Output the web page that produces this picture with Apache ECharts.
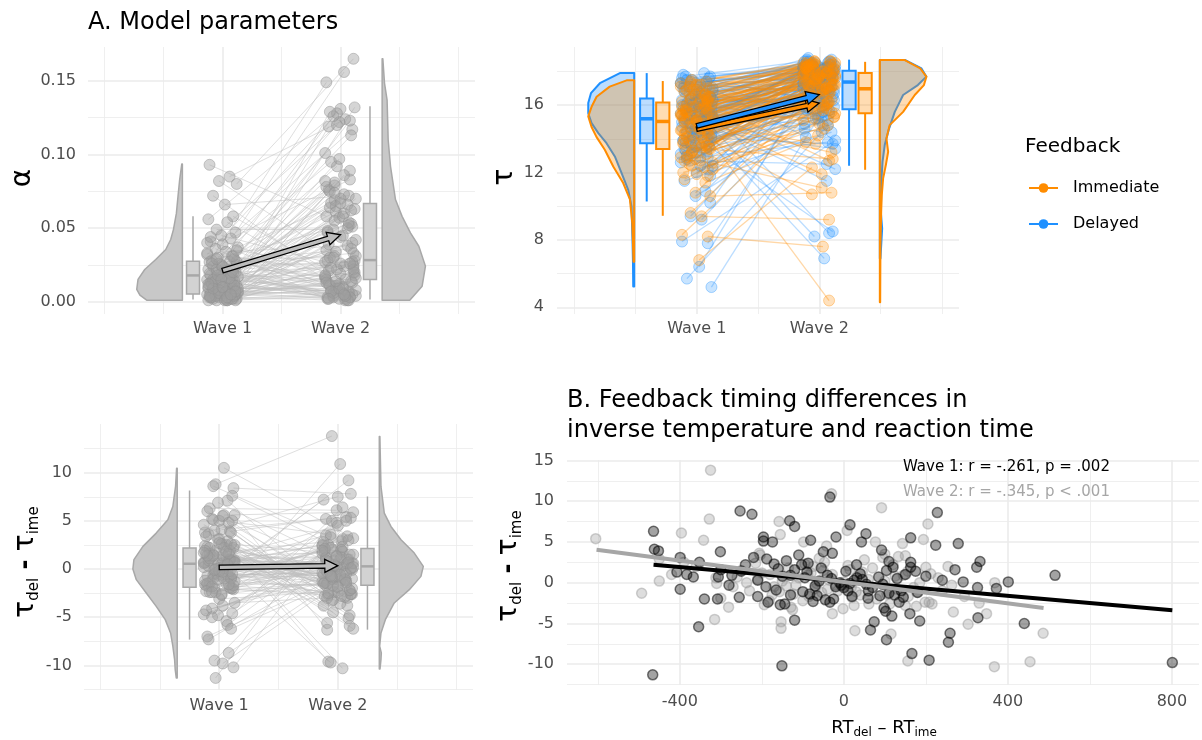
<!DOCTYPE html>
<html><head><meta charset="utf-8">
<script src="https://cdn.jsdelivr.net/npm/echarts@6/dist/echarts.min.js"></script>
<style>html,body{margin:0;padding:0;background:#fff}#c{width:1202px;height:740px}</style>
</head><body><div id="c"></div>
<script>
// ---------------- DATA ----------------
const WAVE_LABELS = ['Wave 1', 'Wave 2'];
const FEEDBACK = ['Immediate', 'Delayed'];

// Panel A (alpha), paired by index
const ALPHA_W1 = [0.093,0.085,0.082,0.080,0.072,0.066,0.058,0.056,0.054,0.049,
0.047,0.045,0.043,0.041,0.039,0.037,0.036,0.034,0.032,0.031,
0.030,0.029,0.028,0.027,0.027,0.026,0.025,0.024,0.023,0.022,
0.022,0.021,0.020,0.020,0.019,0.018,0.018,0.017,0.017,0.016,
0.016,0.015,0.015,0.014,0.014,0.013,0.012,0.012,0.011,0.011,
0.010,0.010,0.009,0.009,0.008,0.008,0.008,0.007,0.007,0.006,
0.006,0.006,0.005,0.005,0.005,0.004,0.004,0.004,0.003,0.003,
0.003,0.003,0.002,0.002,0.002,0.002,0.001,0.001,0.001,0.001,
0.025,0.019,0.013,0.010,0.007,0.004,0.002,0.033,0.021,0.015,
0.004,0.012,0.019,0.002,0.008,0.027,0.015,0.006,0.031,0.010,
0.001,0.022,0.005,0.017,0.013,0.003,0.024,0.009,0.014,0.007,
0.040,0.002,0.018,0.011,0.026,0.004,0.016,0.006,0.035,0.009,
0.001,0.020,0.012,0.003,0.029,0.007,0.015,0.005,0.044,0.010];
const ALPHA_W2 = [0.058,0.124,0.031,0.165,0.012,0.072,0.021,0.131,0.004,0.049,
0.156,0.027,0.083,0.009,0.117,0.064,0.002,0.038,0.128,0.018,
0.095,0.006,0.053,0.149,0.015,0.069,0.033,0.122,0.001,0.076,
0.044,0.008,0.126,0.024,0.101,0.003,0.061,0.013,0.129,0.047,
0.005,0.092,0.028,0.067,0.010,0.113,0.035,0.002,0.081,0.020,
0.057,0.007,0.119,0.026,0.042,0.004,0.073,0.016,0.089,0.011,
0.051,0.030,0.003,0.066,0.022,0.132,0.008,0.045,0.014,0.078,
0.001,0.055,0.025,0.097,0.006,0.039,0.019,0.070,0.003,0.060,
0.017,0.123,0.034,0.005,0.075,0.028,0.050,0.009,0.063,0.023,
0.009,0.062,0.015,0.004,0.079,0.024,0.002,0.054,0.012,0.070,
0.031,0.006,0.086,0.018,0.003,0.065,0.027,0.011,0.048,0.001,
0.120,0.020,0.007,0.058,0.036,0.013,0.004,0.074,0.022,0.009,
0.052,0.002,0.067,0.016,0.030,0.005,0.082,0.026,0.014,0.040];
const ALPHA_MEANS = [0.0212, 0.0455];
const ALPHA_BOX = [[0.0016,0.0052,0.0179,0.0276,0.058],[0.0016,0.0152,0.0283,0.0667,0.1327]];
const ALPHA_DENS_W1 = [[0.001,0.30],[0.0045,0.36],[0.0084,0.387],[0.0152,0.376],[0.0219,0.319],[0.0287,0.226],[0.0355,0.141],[0.0423,0.099],[0.049,0.076],[0.060,0.051],[0.0717,0.037],[0.083,0.023],[0.0936,0.005]];
const ALPHA_DENS_W2 = [[0.001,0.234],[0.0106,0.339],[0.0242,0.367],[0.0377,0.311],[0.0468,0.24],[0.058,0.169],[0.0694,0.113],[0.092,0.071],[0.110,0.051],[0.137,0.042],[0.1485,0.02],[0.165,0.006]];

// Panel A (tau), paired by index
const TAU_DEL_W1 = [5.2,5.7,6.4,7.8,7.9,9.2,9.4,10.2,10.6,10.9,
11.5,12.0,12.4,12.7,12.9,13.1,13.3,13.5,13.6,13.8,
13.9,14.0,14.2,14.3,14.4,14.5,14.6,14.7,14.8,14.9,
15.0,15.1,15.1,15.2,15.3,15.3,15.4,15.5,15.5,15.6,
15.7,15.7,15.8,15.9,15.9,16.0,16.0,16.1,16.2,16.2,
16.3,16.4,16.4,16.5,16.6,16.7,16.8,16.9,17.0,17.1,
17.2,17.3,17.4,17.5,17.6,17.7,17.8,17.9,14.1,15.6,
13.0,16.5,12.2,15.0,16.8,14.6,11.8,17.3,15.4,13.4,
13.2,14.9,16.3,15.8,12.6,17.1,14.4,15.6,16.9,13.9,
15.2,16.6,14.1,17.5,15.9,12.9,16.0,14.7,15.4,17.7,
13.6,16.2,15.0,14.3,16.8,15.7,12.4,17.3,14.8,16.4,
15.5,13.3,17.0,14.5,16.1,15.3,12.8,16.7,14.0,17.6,
15.1,13.7,16.5,14.6,15.8,17.2,13.5,16.3,14.9,15.6];
const TAU_DEL_W2 = [15.2,14.8,16.9,17.6,13.9,16.1,17.8,18.2,15.5,17.2,
14.4,16.6,18.0,12.5,17.5,16.3,18.4,15.9,17.7,14.9,
18.1,17.3,8.5,16.8,18.3,15.7,17.9,13.4,18.5,16.5,
17.0,18.6,8.2,17.4,15.8,18.2,11.5,17.6,16.9,18.0,
14.4,17.8,18.3,6.9,16.4,18.1,17.2,15.1,18.7,17.5,
12.2,18.4,16.0,17.9,8.4,18.2,17.1,18.8,14.1,17.7,
18.5,16.7,18.0,15.3,17.4,18.6,16.2,17.9,13.7,18.3,
17.0,18.1,16.6,17.6,18.4,15.6,17.3,18.2,16.8,17.8,
17.5,18.2,16.4,17.8,15.9,18.6,17.1,18.0,17.4,16.6,
18.3,17.7,15.4,18.5,17.2,16.2,18.1,17.6,14.8,18.4,
16.9,17.3,18.7,16.1,17.9,18.2,15.2,18.0,17.5,16.7,
18.4,14.6,17.8,18.1,16.5,17.0,13.8,18.6,17.3,18.3,
16.8,17.6,18.2,15.7,17.4,18.5,16.3,17.9,18.0,17.1];
const TAU_IMM_W1 = [6.8,8.2,8.3,9.4,9.6,10.6,10.8,11.4,11.6,11.9,
12.2,12.5,12.7,12.9,13.1,13.2,13.4,13.5,13.7,13.8,
13.9,14.0,14.1,14.3,14.4,14.5,14.6,14.7,14.8,14.9,
14.9,15.0,15.1,15.2,15.2,15.3,15.4,15.5,15.5,15.6,
15.7,15.7,15.8,15.9,16.0,16.0,16.1,16.2,16.2,16.3,
16.4,16.5,16.6,16.7,16.8,16.9,17.0,17.1,17.2,17.3,
17.4,17.5,14.2,15.6,12.0,16.6,13.3,15.0,16.9,14.6,
11.8,15.4,13.6,16.3,14.8,12.8,15.9,14.0,17.2,15.3,
13.0,15.7,14.5,16.4,12.4,17.0,15.1,13.8,16.2,14.8,
15.5,12.9,16.8,14.2,15.9,13.5,17.3,14.9,15.3,16.6,
12.7,15.0,16.1,13.9,14.6,17.1,15.8,13.2,16.5,14.4,
15.2,12.3,16.9,14.7,15.6,13.7,16.3,15.4,14.1,17.4,
13.4,15.9,16.0,14.3,15.1,12.6,16.7,14.9,15.5,13.6];
const TAU_IMM_W2 = [12.3,7.6,15.1,9.2,16.5,10.8,17.2,13.8,16.0,17.6,
15.3,18.0,11.1,16.8,17.4,14.6,18.2,12.8,17.0,16.1,
18.3,15.8,17.7,10.7,16.9,18.5,4.4,17.3,15.6,18.1,
16.4,17.9,13.7,18.4,17.1,11.9,18.6,16.7,17.5,15.2,
18.0,17.8,16.2,18.3,14.9,17.2,18.5,16.6,17.9,12.7,
18.1,17.4,16.0,18.4,17.0,15.5,18.2,17.7,16.8,18.6,
17.3,18.0,15.9,17.6,14.2,18.3,16.3,17.8,18.5,17.1,
15.7,18.2,16.9,17.5,13.2,18.1,16.5,17.9,18.4,17.2,
16.8,17.9,17.2,18.3,15.9,18.5,17.6,16.4,18.0,17.3,
17.7,15.5,18.4,16.9,17.8,16.2,18.6,17.1,17.5,18.2,
15.8,17.4,18.1,16.6,17.0,18.4,17.9,16.0,18.3,17.2,
17.6,14.8,18.5,17.3,17.8,16.5,18.0,17.7,16.7,18.6,
16.3,17.9,18.2,17.0,17.5,15.3,18.4,17.6,17.8,16.1];
const TAU_DEL_MEANS = [14.77, 16.62];
const TAU_IMM_MEANS = [14.57, 16.12];
const TAU_DEL_BOX = [[10.28,13.74,15.19,16.4,17.9],[12.4,15.76,17.37,18.04,18.7]];
const TAU_IMM_BOX = [[9.43,13.4,15.03,16.16,17.43],[12.16,15.52,16.97,17.9,18.57]];
const TAU_DEL_DENS_W1 = [[5.23,0.008],[6.6,0.01],[7.98,0.014],[9.98,0.022],[10.97,0.049],[11.96,0.103],[12.95,0.158],[13.74,0.226],[14.34,0.293],[14.93,0.348],[15.52,0.375],[16.12,0.375],[16.71,0.353],[17.3,0.28],[17.9,0.117]];
const TAU_IMM_DENS_W1 = [[6.7,0.006],[8.0,0.011],[9.0,0.016],[10.4,0.035],[11.37,0.09],[12.36,0.171],[13.35,0.24],[14.1,0.307],[14.7,0.348],[15.33,0.375],[15.9,0.348],[16.5,0.307],[17.1,0.2],[17.47,0.062]];
const TAU_DEL_DENS_W2 = [[6.9,0.005],[8.68,0.019],[9.66,0.008],[11.65,0.014],[12.63,0.022],[13.63,0.04],[14.62,0.076],[15.6,0.122],[16.6,0.19],[17.19,0.31],[17.69,0.38],[18.18,0.34],[18.68,0.204]];
const TAU_IMM_DENS_W2 = [[4.3,0.003],[7.68,0.005],[9.66,0.011],[10.66,0.016],[11.65,0.027],[12.44,0.049],[13.23,0.068],[14.02,0.054],[14.81,0.08],[15.6,0.19],[16.6,0.285],[17.19,0.36],[17.69,0.38],[18.18,0.33],[18.68,0.2]];

// Panel B: RT difference (x) and tau difference (y) per participant, per wave
const RT_W1 = [-253,-224,-464,-462,-452,-301,-196,-196,-174,-220,
-188,-170,-399,-352,-407,-383,-367,-399,-340,-308,
-255,-210,-354,-466,-151,-185,-155,-273,-306,-34,
228,-132,-120,15,54,43,-19,-81,163,224,
279,92,-50,-28,-110,163,163,31,271,332,
324,-87,-103,104,-120,74,65,104,98,102,
117,161,185,166,208,259,255,327,124,-34,
-45,-83,-144,59,88,291,326,200,32,-6,
372,401,515,440,801,-60,-40,-20,10,25,
-120,-90,-70,-150,-240,130,150,180,240,60,
-25,0,45,-130,-140,110,145,175,-95,-300,
-210,-165,-130,-75,-55,-10,20,40,70,95,
120,140,-250,-190,-100,-30,5,55,85,135,
-280,-160,-65,15,110];
const TD_W1 = [8.8,8.4,6.3,4.1,3.9,3.8,5.6,5.1,5.0,3.1,
2.9,2.3,3.1,2.5,1.3,1.0,0.7,-0.8,-2.0,-2.0,
-1.8,-1.7,-5.4,-11.3,-10.2,-2.4,-2.7,0.9,0.7,10.5,
8.6,7.6,6.9,7.1,6.0,5.0,5.6,5.2,5.5,4.6,
4.8,4.0,3.8,3.6,3.4,2.5,1.9,2.2,1.6,2.6,
1.9,2.4,2.2,1.5,-4.6,-4.8,-5.8,-7.0,-3.1,-3.5,
-4.1,-3.8,-4.7,-8.7,-9.5,-6.2,-7.3,-4.3,-1.5,-2.4,
-2.1,-1.4,-2.6,-1.9,-1.6,0.1,-0.6,0.8,0.6,-0.3,
-0.7,0.1,0.9,-5.0,-9.8,0.2,0.9,-0.5,-1.0,0.3,
1.6,1.3,-0.4,0.8,2.2,0.5,1.0,-1.2,0.3,-1.0,
-2.0,-0.6,0.4,-1.5,2.7,-1.3,-1.8,1.4,0.6,1.6,
0.3,-0.9,0.9,-2.3,1.8,0.0,-1.7,1.1,-0.6,-0.2,
1.9,-1.0,1.4,-0.5,-1.1,0.5,1.4,-0.2,0.7,-2.4,
-0.3,1.7,-1.6,-0.1,2.6];
const RT_W2 = [-325,-328,-396,-605,-342,-158,-155,-206,-450,-493,
-281,-315,-153,-153,-237,-210,-310,-312,-194,-30,
92,205,8,-98,194,143,77,100,-42,133,
150,254,15,-28,-2,27,115,150,177,198,
215,156,267,303,348,367,-125,61,263,294,
157,368,486,454,-450,-215,-204,-157,-182,-129,
-123,-117,-88,-66,-47,-54,-28,18,95,100,
112,156,178,212,208,-250,-270,-360,-390,-420,
-75,-100,40,70,-15,130,240,330,-180,-60,
50,-135,-230,185,-35,-170,-80,20,230,120,
-200,-140,-110,-85,-50,-20,10,30,60,80,
125,170,-260,-175,-95,-40,0,45,105,145,
-300,-150,-70,25,200];
const TD_W2 = [13.8,7.8,6.1,5.4,5.2,7.5,5.9,3.6,0.2,-1.3,
-3.0,-4.5,-4.8,-5.6,0.0,0.4,-0.1,0.6,-2.7,10.9,
9.2,7.2,6.4,5.0,5.3,4.8,5.0,3.5,4.5,3.2,
3.3,2.0,1.6,-3.8,-3.2,-5.9,-6.3,-2.8,-2.9,-2.4,
-2.6,-9.6,-3.6,-5.1,-3.8,-10.3,-3.3,-2.6,-0.3,-1.7,
-1.7,0.0,-6.2,-9.7,2.9,2.4,3.4,-1.1,-2.2,-3.0,
-1.4,-0.3,0.9,-0.1,2.5,-1.2,1.0,-0.6,3.1,0.2,
-2.6,1.4,-1.2,1.1,-2.4,1.5,-0.5,2.0,2.5,1.0,
2.0,-2.2,-1.5,1.8,-1.0,-0.8,-1.0,-2.5,1.0,3.0,
2.8,1.8,-1.0,0.0,0.3,-0.5,1.2,-1.8,0.6,2.2,
1.2,-0.4,0.6,-1.7,1.5,-0.3,2.1,-1.1,0.4,-2.0,
0.8,-0.6,0.7,-1.5,2.3,-0.8,0.1,1.3,-1.4,0.9,
-1.9,0.2,-0.7,-2.8,1.9];
const DIFF_MEANS = [0.17, 0.35];
const DIFF_BOX = [[-7.32,-1.9,0.55,2.18,8.15],[-6.29,-1.69,0.28,2.14,7.53]];
const DIFF_DENS_W1 = [[-11.3,0.008],[-10.43,0.017],[-9.4,0.022],[-8.01,0.037],[-6.63,0.056],[-5.25,0.101],[-3.87,0.177],[-2.49,0.261],[-1.1,0.345],[0,0.374],[0.97,0.365],[2.35,0.289],[3.73,0.177],[5.11,0.079],[6.49,0.037],[8.57,0.014],[10.47,0.005]];
const DIFF_DENS_W2 = [[-10.36,0.006],[-9.4,0.014],[-8.7,0.017],[-8.01,0.003],[-6.63,0.014],[-5.25,0.051],[-3.52,0.126],[-2.14,0.253],[-0.76,0.351],[0.28,0.371],[1.66,0.295],[3.04,0.183],[4.42,0.098],[5.8,0.042],[8.57,0.014],[12.0,0.008],[13.75,0.005]];
const FIT_W1 = [[-464, 2.2], [801, -3.38]];
const FIT_W2 = [[-603, 4.05], [487, -3.1]];
const STATS_TEXT = ['Wave 1: r = -.261, p = .002', 'Wave 2: r = -.345, p < .001'];

// Tick values
const ALPHA_TICKS = [0, 0.05, 0.10, 0.15];
const TAU_TICKS = [4, 8, 12, 16];
const DIFF_TICKS = [-10, -5, 0, 5, 10];
const SCAT_Y_TICKS = [-10, -5, 0, 5, 10, 15];
const RT_TICKS = [-400, 0, 400, 800];
const WAVE_TICKS = [1, 2];

// ---------------- LAYOUT / STYLE ----------------
const JITTER = [-0.11,0.06,-0.03,0.12,-0.08,0.02,0.09,-0.12,0.04,-0.05,0.11,-0.01,0.07,-0.10,0.00,0.13,-0.06,0.03,-0.13,0.08,-0.04,0.10,-0.09];
const J = (i, k) => JITTER[(i + k) % JITTER.length];
const FONT = 'DejaVu Sans';
const GRIDC = '#ebebeb';
const BLUE = '#1E90FF', ORANGE = '#FF8C00';
const rgba = (hex, a) => { const n = parseInt(hex.slice(1), 16); return `rgba(${n>>16},${(n>>8)&255},${n&255},${a})`; };

function axisPair(grid, isX, min, max, majors, minors, labels, fmt, margin) {
  const base = { type: 'value', gridIndex: grid, min, max, axisLine: { show: false } };
  return [
    Object.assign({}, base, {
      position: isX ? 'bottom' : 'left',
      axisTick: { show: false, customValues: majors },
      axisLabel: { show: true, customValues: labels, formatter: fmt, color: '#4d4d4d', fontSize: 16, fontFamily: FONT, margin },
      splitLine: { show: true, lineStyle: { color: GRIDC, width: 1.6 } }
    }),
    Object.assign({}, base, {
      position: isX ? 'top' : 'right',
      axisTick: { show: false, customValues: minors },
      axisLabel: { show: false },
      splitLine: { show: true, lineStyle: { color: GRIDC, width: 0.8 } }
    })
  ];
}
const waveFmt = v => WAVE_LABELS[Math.round(v) - 1];
const xAxes = [
  ...axisPair(0, true, -0.14, 3.14, WAVE_TICKS, [0, 0.5, 1.5, 2.5, 3], WAVE_TICKS, waveFmt, 7),
  ...axisPair(1, true, -0.14, 3.14, WAVE_TICKS, [0, 0.5, 1.5, 2.5, 3], WAVE_TICKS, waveFmt, 7),
  ...axisPair(2, true, -0.14, 3.14, WAVE_TICKS, [0, 0.5, 1.5, 2.5, 3], WAVE_TICKS, waveFmt, 8),
  ...axisPair(3, true, -675, 866, RT_TICKS, [-600, -200, 200, 600], RT_TICKS, v => String(v), 9)
];
const yAxes = [
  ...axisPair(0, false, -0.0083, 0.173, ALPHA_TICKS, [0.025, 0.075, 0.125], ALPHA_TICKS, v => v.toFixed(2), 12),
  ...axisPair(1, false, 3.6, 19.45, TAU_TICKS, [6, 10, 14, 18], TAU_TICKS, v => String(v), 13),
  ...axisPair(2, false, -12.55, 15.05, DIFF_TICKS, [-12.5, -7.5, -2.5, 2.5, 7.5, 12.5], DIFF_TICKS, v => String(v), 12),
  ...axisPair(3, false, -12.55, 15.05, SCAT_Y_TICKS, [-12.5, -7.5, -2.5, 2.5, 7.5, 12.5], SCAT_Y_TICKS, v => String(v), 13)
];

function violin(ax, profile, x0, dir, fill, stroke, lw) {
  return {
    type: 'custom', xAxisIndex: ax, yAxisIndex: ax, silent: true, z: 2,
    data: [[x0, profile[0][0]]],
    renderItem(params, api) {
      const pts = [api.coord([x0, profile[0][0]])];
      profile.forEach(([y, w]) => pts.push(api.coord([x0 + dir * w, y])));
      pts.push(api.coord([x0, profile[profile.length - 1][0]]));
      return { type: 'polygon', shape: { points: pts }, style: { fill, stroke, lineWidth: lw, lineJoin: 'round' } };
    }
  };
}
function boxes(ax, stats, xs, hw, fill, stroke, lw, medW) {
  return {
    type: 'custom', xAxisIndex: ax, yAxisIndex: ax, silent: true, z: 3,
    data: stats.map((s, i) => [xs[i], s[0], s[1], s[2], s[3], s[4]]),
    renderItem(params, api) {
      const x = api.value(0);
      const lo = api.coord([x, api.value(1)]), q1 = api.coord([x, api.value(2)]);
      const q3 = api.coord([x, api.value(4)]), hi = api.coord([x, api.value(5)]);
      const a = api.coord([x - hw, api.value(4)]), b = api.coord([x + hw, api.value(2)]);
      const m1 = api.coord([x - hw, api.value(3)]), m2 = api.coord([x + hw, api.value(3)]);
      return { type: 'group', children: [
        { type: 'line', shape: { x1: lo[0], y1: lo[1], x2: q1[0], y2: q1[1] }, style: { stroke, lineWidth: lw } },
        { type: 'line', shape: { x1: q3[0], y1: q3[1], x2: hi[0], y2: hi[1] }, style: { stroke, lineWidth: lw } },
        { type: 'rect', shape: { x: a[0], y: a[1], width: b[0] - a[0], height: b[1] - a[1] }, style: { fill, stroke, lineWidth: lw } },
        { type: 'line', shape: { x1: m1[0], y1: m1[1], x2: m2[0], y2: m2[1] }, style: { stroke, lineWidth: medW } }
      ] };
    }
  };
}
function arrow(ax, means, fill) {
  return {
    type: 'custom', xAxisIndex: ax, yAxisIndex: ax, silent: true, z: 8,
    data: [[1, means[0], 2, means[1]]],
    renderItem(params, api) {
      const p0 = api.coord([api.value(0), api.value(1)]), p1 = api.coord([api.value(2), api.value(3)]);
      const dx = p1[0] - p0[0], dy = p1[1] - p0[1], L = Math.hypot(dx, dy);
      const ux = dx / L, uy = dy / L, nx = -uy, ny = ux;
      const hw = 2.3, hl = 13, hh = 6.5;
      const bx = p1[0] - ux * hl, by = p1[1] - uy * hl;
      const pts = [[p0[0] + nx * hw, p0[1] + ny * hw], [bx + nx * hw, by + ny * hw], [bx + nx * hh, by + ny * hh], [p1[0], p1[1]],
        [bx - nx * hh, by - ny * hh], [bx - nx * hw, by - ny * hw], [p0[0] - nx * hw, p0[1] - ny * hw]];
      return { type: 'polygon', shape: { points: pts }, style: { fill, stroke: '#000', lineWidth: 1.3, lineJoin: 'miter' } };
    }
  };
}
function pairLines(ax, w1, w2, k1, k2, color, width) {
  const n = Math.min(w1.length, w2.length);
  const data = [];
  for (let i = 0; i < n; i++) data.push({ coords: [[1 + J(i, k1), w1[i]], [2 + J(i, k2), w2[i]]] });
  return { type: 'lines', coordinateSystem: 'cartesian2d', xAxisIndex: ax, yAxisIndex: ax, silent: true, z: 2,
    data, lineStyle: { color, width, opacity: 1 } };
}
function pts(ax, vals, xc, k, size, fill, border, bw, z) {
  return { type: 'scatter', xAxisIndex: ax, yAxisIndex: ax, silent: true, z: z || 5, symbolSize: size,
    data: vals.map((v, i) => [xc + J(i, k), v]),
    itemStyle: { color: fill, borderColor: border, borderWidth: bw } };
}

const GRAYPT = 'rgba(160,160,160,0.55)', GRAYPTB = 'rgba(145,145,145,0.6)';
const GRAYLINE = 'rgba(190,190,190,0.5)';
const series = [
  // ---- Panel A: alpha (axis 0)
  pairLines(0, ALPHA_W1, ALPHA_W2, 0, 7, GRAYLINE, 1),
  violin(0, ALPHA_DENS_W1, 0.66, -1, '#c8c8c8', '#a8a8a8', 1.5),
  violin(0, ALPHA_DENS_W2, 2.353, 1, '#c8c8c8', '#a8a8a8', 1.5),
  boxes(0, ALPHA_BOX, [0.75, 2.25], 0.055, '#d2d2d2', '#a8a8a8', 1.5, 2.5),
  pts(0, ALPHA_W1, 1, 0, 11, GRAYPT, GRAYPTB, 1),
  pts(0, ALPHA_W2, 2, 7, 11, GRAYPT, GRAYPTB, 1),
  arrow(0, ALPHA_MEANS, '#bdbdbd'),
  // ---- Panel A: tau (axis 2)
  pairLines(2, TAU_DEL_W1, TAU_DEL_W2, 3, 11, rgba(BLUE, 0.3), 1.3),
  pairLines(2, TAU_IMM_W1, TAU_IMM_W2, 5, 16, rgba(ORANGE, 0.35), 1.3),
  violin(2, TAU_DEL_DENS_W1, 0.49, -1, rgba(BLUE, 0.3), BLUE, 2),
  violin(2, TAU_IMM_DENS_W1, 0.49, -1, rgba(ORANGE, 0.3), ORANGE, 2),
  violin(2, TAU_DEL_DENS_W2, 2.494, 1, rgba(BLUE, 0.3), BLUE, 2),
  violin(2, TAU_IMM_DENS_W2, 2.494, 1, rgba(ORANGE, 0.3), ORANGE, 2),
  boxes(2, TAU_DEL_BOX, [0.592, 2.243], 0.054, rgba(BLUE, 0.3), BLUE, 2, 3.5),
  boxes(2, TAU_IMM_BOX, [0.723, 2.374], 0.054, rgba(ORANGE, 0.3), ORANGE, 2, 3.5),
  pts(2, TAU_DEL_W1, 1, 3, 11, rgba(BLUE, 0.3), rgba(BLUE, 0.45), 1),
  pts(2, TAU_DEL_W2, 2, 11, 11, rgba(BLUE, 0.3), rgba(BLUE, 0.45), 1),
  pts(2, TAU_IMM_W1, 1, 5, 11, rgba(ORANGE, 0.32), rgba(ORANGE, 0.45), 1),
  pts(2, TAU_IMM_W2, 2, 16, 11, rgba(ORANGE, 0.32), rgba(ORANGE, 0.45), 1),
  arrow(2, TAU_IMM_MEANS, ORANGE),
  arrow(2, TAU_DEL_MEANS, BLUE),
  { type: 'line', name: FEEDBACK[0], xAxisIndex: 2, yAxisIndex: 2, data: [], symbol: 'circle', color: ORANGE, lineStyle: { width: 2, color: ORANGE }, itemStyle: { color: ORANGE } },
  { type: 'line', name: FEEDBACK[1], xAxisIndex: 2, yAxisIndex: 2, data: [], symbol: 'circle', color: BLUE, lineStyle: { width: 2, color: BLUE }, itemStyle: { color: BLUE } },
  // ---- Panel A: tau difference (axis 4)
  pairLines(4, TD_W1, TD_W2, 2, 9, GRAYLINE, 1),
  violin(4, DIFF_DENS_W1, 0.646, -1, '#c8c8c8', '#a8a8a8', 1.5),
  violin(4, DIFF_DENS_W2, 2.35, 1, '#c8c8c8', '#a8a8a8', 1.5),
  boxes(4, DIFF_BOX, [0.75, 2.25], 0.055, '#d2d2d2', '#a8a8a8', 1.5, 2.5),
  pts(4, TD_W1, 1, 2, 11, GRAYPT, GRAYPTB, 1),
  pts(4, TD_W2, 2, 9, 11, GRAYPT, GRAYPTB, 1),
  arrow(4, DIFF_MEANS, '#bdbdbd'),
  // ---- Panel B scatter (axis 6)
  { type: 'scatter', xAxisIndex: 6, yAxisIndex: 6, silent: true, z: 4, symbolSize: 10,
    data: RT_W2.map((x, i) => [x, TD_W2[i]]),
    itemStyle: { color: 'rgba(150,150,150,0.4)', borderColor: 'rgba(150,150,150,0.55)', borderWidth: 1.5 } },
  { type: 'scatter', xAxisIndex: 6, yAxisIndex: 6, silent: true, z: 4, symbolSize: 10,
    data: RT_W1.map((x, i) => [x, TD_W1[i]]),
    itemStyle: { color: 'rgba(0,0,0,0.45)', borderColor: 'rgba(0,0,0,0.65)', borderWidth: 1.5 } },
  { type: 'line', xAxisIndex: 6, yAxisIndex: 6, silent: true, z: 6, data: FIT_W1, symbol: 'none', lineStyle: { color: '#000', width: 4 } },
  { type: 'line', xAxisIndex: 6, yAxisIndex: 6, silent: true, z: 6, data: FIT_W2, symbol: 'none', lineStyle: { color: '#a6a6a6', width: 4 } }
];

const T = (x, y, text, size, extra) => ({ type: 'text', x, y, silent: true, z: 100,
  style: Object.assign({ text, fill: '#000', fontSize: size, fontFamily: FONT, align: 'left', verticalAlign: 'middle' }, extra || {}) });
const subRich = (main, sub, lh) => ({
  m: { fontSize: main, fontFamily: FONT, lineHeight: lh, verticalAlign: 'middle', fill: '#000' },
  d: { fontSize: main - 4, fontFamily: FONT, fontWeight: 'bold', lineHeight: lh, verticalAlign: 'middle', fill: '#000' },
  s: { fontSize: sub, fontFamily: FONT, lineHeight: sub, verticalAlign: 'bottom', fill: '#000' }
});
const tauTitle = (x, y) => ({ type: 'text', x, y, rotation: Math.PI / 2, silent: true, z: 100,
  style: { text: '{m|τ}{s|del}{d| - }{m|τ}{s|ime}', rich: subRich(28, 15, 32), align: 'center', verticalAlign: 'middle' } });

const graphic = [
  T(88, 23, 'A. Model parameters', 24),
  T(567, 401, 'B. Feedback timing differences in', 24),
  T(567, 431, 'inverse temperature and reaction time', 24),
  { type: 'text', x: 23, y: 178, rotation: Math.PI / 2, silent: true, z: 100,
    style: { text: 'α', fill: '#000', fontSize: 28, fontFamily: FONT, align: 'center', verticalAlign: 'middle' } },
  { type: 'text', x: 505, y: 177, rotation: Math.PI / 2, silent: true, z: 100,
    style: { text: 'τ', fill: '#000', fontSize: 28, fontFamily: FONT, align: 'center', verticalAlign: 'middle' } },
  tauTitle(26, 562),
  tauTitle(509, 566),
  { type: 'text', x: 884, y: 728, silent: true, z: 100,
    style: { text: '{m|RT}{s|del}{m| – RT}{s|ime}', rich: { m: { fontSize: 18, fontFamily: FONT, lineHeight: 22, verticalAlign: 'middle', fill: '#000' }, s: { fontSize: 12, fontFamily: FONT, lineHeight: 12, verticalAlign: 'bottom', fill: '#000' } }, align: 'center', verticalAlign: 'middle' } },
  T(903, 467, STATS_TEXT[0], 15),
  T(903, 492, STATS_TEXT[1], 15, { fill: '#a6a6a6' }),
  T(1025, 147, 'Feedback', 20)
];

const chart = echarts.init(document.getElementById('c'), null, { renderer: 'canvas' });
chart.setOption({
  animation: false,
  backgroundColor: '#fff',
  grid: [
    { left: 88, top: 47, width: 387, height: 267 },
    { left: 557, top: 47, width: 402, height: 267 },
    { left: 84, top: 424, width: 389, height: 266 },
    { left: 567, top: 460, width: 632, height: 225 }
  ],
  xAxis: xAxes,
  yAxis: yAxes,
  legend: {
    data: FEEDBACK, orient: 'vertical', left: 1023, top: 175, itemWidth: 29, itemHeight: 12, itemGap: 20,
    textStyle: { fontSize: 16, fontFamily: FONT, color: '#000', padding: [0, 0, 0, 10] }, selectedMode: false
  },
  graphic,
  series
});
</script></body></html>
